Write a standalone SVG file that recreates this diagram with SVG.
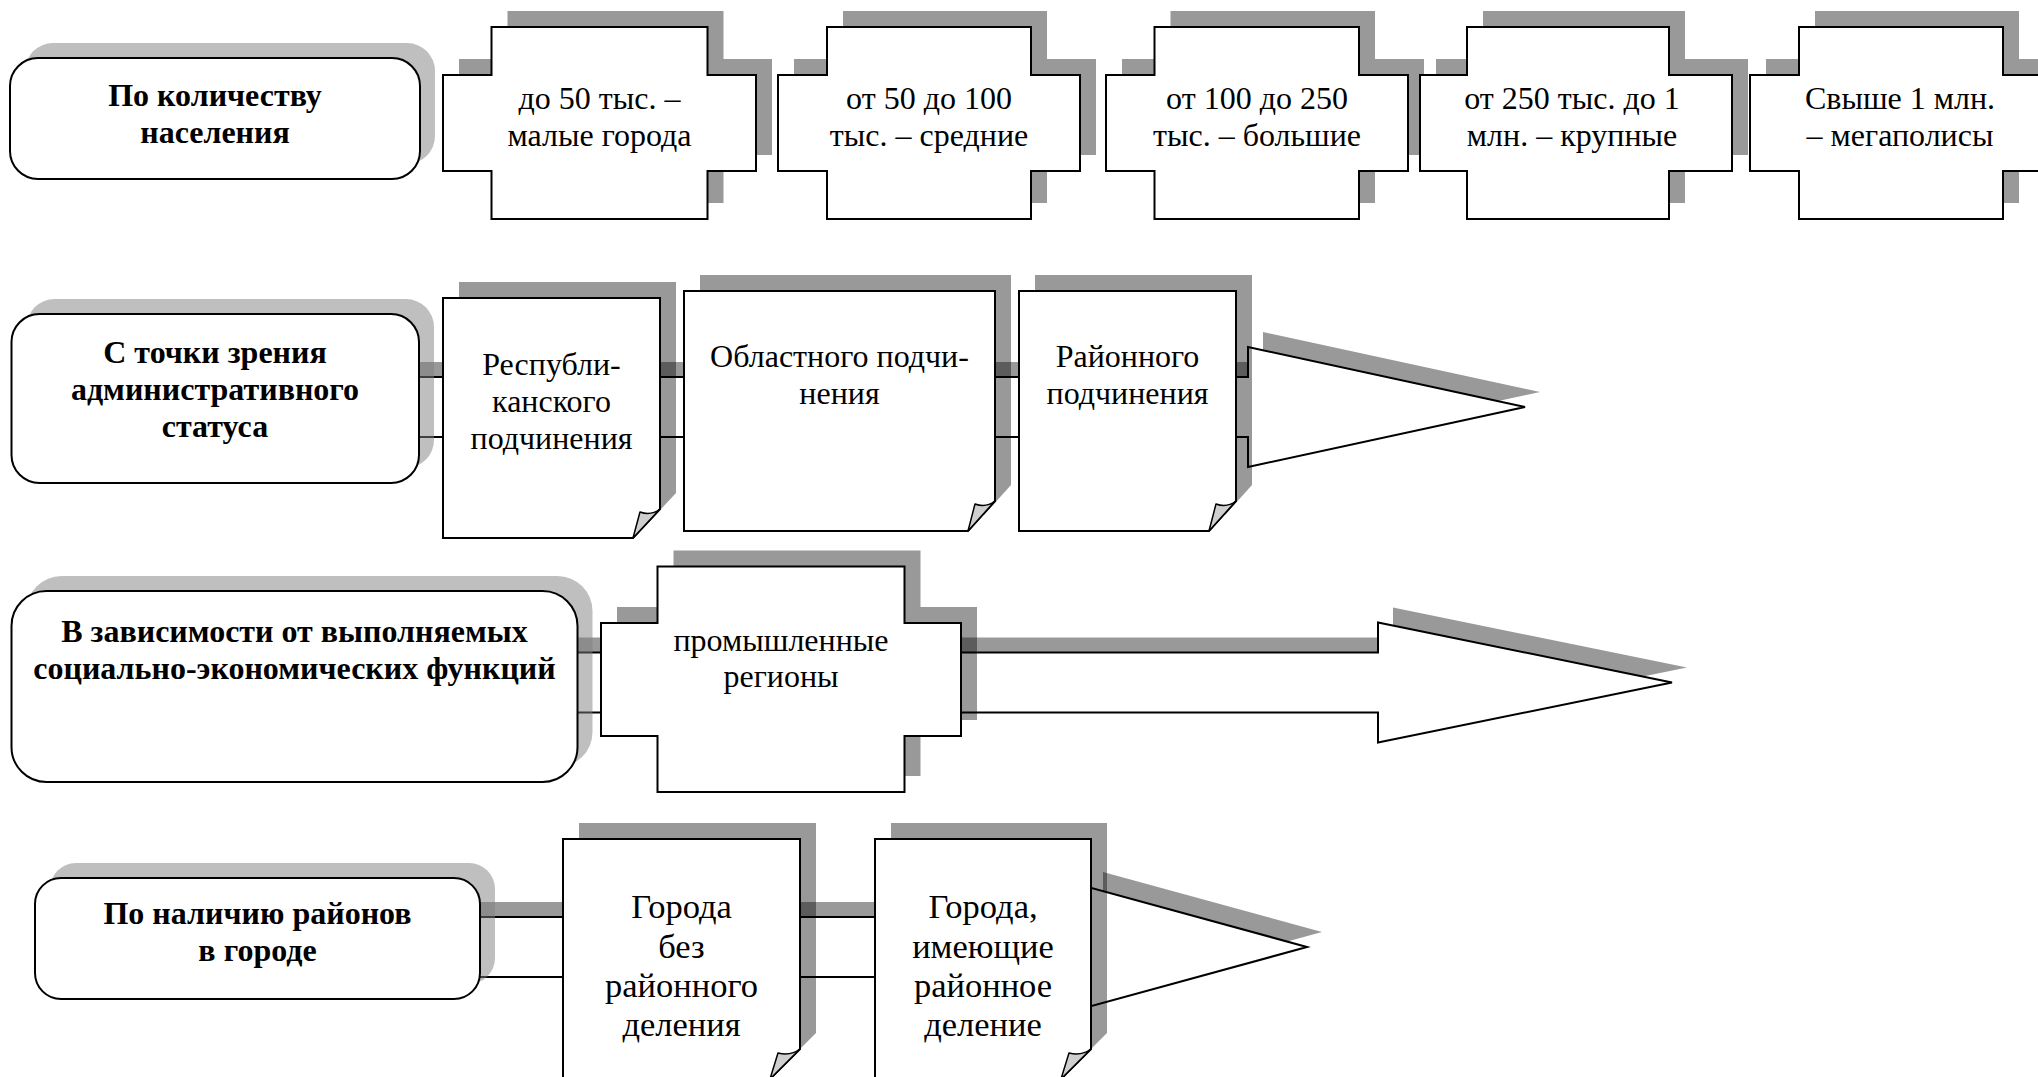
<svg xmlns="http://www.w3.org/2000/svg" width="2038" height="1077" viewBox="0 0 2038 1077">
<style>
.sh{fill:#000;fill-opacity:.4}
.bsh{fill:#808080;fill-opacity:.5}
.body{fill:#fff;stroke:#000;stroke-width:2;stroke-linejoin:miter}
.fold{fill:#cfcfcf;stroke:#000;stroke-width:1.5;stroke-linejoin:round}
.t{font-family:"Liberation Serif","Times New Roman",serif;font-size:32px;text-anchor:middle;fill:#000}
.b{font-weight:bold}
.big{font-size:34.5px}
</style>
<rect width="2038" height="1077" fill="#fff"/>

<g id="connectors">
  <g id="arrow-row2">
    <path class="sh" transform="translate(15,-15)" d="M200,377 H1248 V347 L1525,407 L1248,467 V437 H200 Z"/>
    <path class="body" d="M200,377 H1248 V347 L1525,407 L1248,467 V437 H200 Z"/>
  </g>
  <g id="arrow-row3">
    <path class="sh" transform="translate(15,-15)" d="M300,652.5 H1378 V622.5 L1672,682.5 L1378,742.5 V712.5 H300 Z"/>
    <path class="body" d="M300,652.5 H1378 V622.5 L1672,682.5 L1378,742.5 V712.5 H300 Z"/>
  </g>
  <g id="arrow-row4">
    <path class="sh" transform="translate(15,-15)" d="M300,917 H1088 V887 L1307,947 L1088,1007 V977 H300 Z"/>
    <path class="body" d="M300,917 H1088 V887 L1307,947 L1088,1007 V977 H300 Z"/>
  </g>
</g>

<!-- Row 1 -->
<g id="box-population">
  <rect class="bsh" x="25" y="43" width="410" height="121" rx="28"/>
  <rect class="body" x="10" y="58" width="410" height="121" rx="28"/>
  <text class="t b" x="215" y="106">По количеству</text>
  <text class="t b" x="215" y="143">населения</text>
</g>
<g id="cross-small">
  <path class="sh" transform="translate(16,-16)" d="M491.5,27 H707.5 V75 H756 V171 H707.5 V219 H491.5 V171 H443 V75 H491.5 Z"/>
  <path class="body" d="M491.5,27 H707.5 V75 H756 V171 H707.5 V219 H491.5 V171 H443 V75 H491.5 Z"/>
  <text class="t" x="599.5" y="109">до 50 тыс. –</text>
  <text class="t" x="599.5" y="146">малые города</text>
</g>
<g id="cross-medium">
  <path class="sh" transform="translate(16,-16)" d="M827,27 H1031 V75 H1080 V171 H1031 V219 H827 V171 H778 V75 H827 Z"/>
  <path class="body" d="M827,27 H1031 V75 H1080 V171 H1031 V219 H827 V171 H778 V75 H827 Z"/>
  <text class="t" x="929" y="109">от 50 до 100</text>
  <text class="t" x="929" y="146">тыс. – средние</text>
</g>
<g id="cross-big">
  <path class="sh" transform="translate(16,-16)" d="M1154.5,27 H1359 V75 H1408 V171 H1359 V219 H1154.5 V171 H1106 V75 H1154.5 Z"/>
  <path class="body" d="M1154.5,27 H1359 V75 H1408 V171 H1359 V219 H1154.5 V171 H1106 V75 H1154.5 Z"/>
  <text class="t" x="1257" y="109">от 100 до 250</text>
  <text class="t" x="1257" y="146">тыс. – большие</text>
</g>
<g id="cross-large">
  <path class="sh" transform="translate(16,-16)" d="M1467,27 H1669 V75 H1732 V171 H1669 V219 H1467 V171 H1420 V75 H1467 Z"/>
  <path class="body" d="M1467,27 H1669 V75 H1732 V171 H1669 V219 H1467 V171 H1420 V75 H1467 Z"/>
  <text class="t" x="1572" y="109">от 250 тыс. до 1</text>
  <text class="t" x="1572" y="146">млн. – крупные</text>
</g>
<g id="cross-megalopolis">
  <path class="sh" transform="translate(16,-16)" d="M1799,27 H2003 V75 H2052 V171 H2003 V219 H1799 V171 H1750 V75 H1799 Z"/>
  <path class="body" d="M1799,27 H2003 V75 H2052 V171 H2003 V219 H1799 V171 H1750 V75 H1799 Z"/>
  <text class="t" x="1900" y="109">Свыше 1 млн.</text>
  <text class="t" x="1900" y="146">– мегаполисы</text>
</g>

<!-- Row 2 -->
<g id="box-admin">
  <rect class="bsh" x="26.5" y="299" width="407.5" height="169" rx="28"/>
  <rect class="body" x="11.5" y="314" width="407.5" height="169" rx="28"/>
  <text class="t b" x="215" y="362.5">С точки зрения</text>
  <text class="t b" x="215" y="399.5">административного</text>
  <text class="t b" x="215" y="436.5">статуса</text>
</g>
<g id="doc-republic">
  <path class="sh" transform="translate(16,-16)" d="M443,298 H660 V509 L633,538 H443 Z"/>
  <path class="body" d="M443,298 H660 V509 L633,538 H443 Z"/>
  <path class="fold" d="M660,509 Q651,516 640,512 L633,538 Z"/>
  <text class="t" x="551.5" y="375">Республи-</text>
  <text class="t" x="551.5" y="412">канского</text>
  <text class="t" x="551.5" y="449">подчинения</text>
</g>
<g id="doc-region">
  <path class="sh" transform="translate(16,-16)" d="M684,291 H995 V501 L968,531 H684 Z"/>
  <path class="body" d="M684,291 H995 V501 L968,531 H684 Z"/>
  <path class="fold" d="M995,501 Q986,508 975,504 L968,531 Z"/>
  <text class="t" x="839.5" y="367">Областного подчи-</text>
  <text class="t" x="839.5" y="404">нения</text>
</g>
<g id="doc-district">
  <path class="sh" transform="translate(16,-16)" d="M1019,291 H1236 V501 L1209,531 H1019 Z"/>
  <path class="body" d="M1019,291 H1236 V501 L1209,531 H1019 Z"/>
  <path class="fold" d="M1236,501 Q1227,508 1216,504 L1209,531 Z"/>
  <text class="t" x="1127.5" y="367">Районного</text>
  <text class="t" x="1127.5" y="404">подчинения</text>
</g>

<!-- Row 3 -->
<g id="box-functions">
  <rect class="bsh" x="26.5" y="576" width="566" height="191" rx="35"/>
  <rect class="body" x="11.5" y="591" width="566" height="191" rx="35"/>
  <text class="t b" x="294.5" y="641.5">В зависимости от выполняемых</text>
  <text class="t b" x="294.5" y="678.5">социально-экономических функций</text>
</g>
<g id="cross-industrial">
  <path class="sh" transform="translate(16,-16)" d="M657.5,566.5 H904.5 V623 H961 V736 H904.5 V792 H657.5 V736 H601 V623 H657.5 Z"/>
  <path class="body" d="M657.5,566.5 H904.5 V623 H961 V736 H904.5 V792 H657.5 V736 H601 V623 H657.5 Z"/>
  <text class="t" x="781" y="651">промышленные</text>
  <text class="t" x="781" y="687">регионы</text>
</g>

<!-- Row 4 -->
<g id="box-districts">
  <rect class="bsh" x="50" y="863" width="445" height="121" rx="26"/>
  <rect class="body" x="35" y="878" width="445" height="121" rx="26"/>
  <text class="t b" x="257.5" y="924">По наличию районов</text>
  <text class="t b" x="257.5" y="961">в городе</text>
</g>
<g id="doc-without">
  <path class="sh" transform="translate(16,-16)" d="M563,839 H800 V1049 L770,1079 H563 Z"/>
  <path class="body" d="M563,839 H800 V1049 L770,1079 H563 Z"/>
  <path class="fold" d="M800,1049 Q791,1056 778,1053 L770,1079 Z"/>
  <text class="t big" x="681.5" y="918">Города</text>
  <text class="t big" x="681.5" y="957.5">без</text>
  <text class="t big" x="681.5" y="997">районного</text>
  <text class="t big" x="681.5" y="1036">деления</text>
</g>
<g id="doc-with">
  <path class="sh" transform="translate(16,-16)" d="M875,839 H1091 V1049 L1061,1079 H875 Z"/>
  <path class="body" d="M875,839 H1091 V1049 L1061,1079 H875 Z"/>
  <path class="fold" d="M1091,1049 Q1082,1056 1069,1053 L1061,1079 Z"/>
  <text class="t big" x="983" y="918">Города,</text>
  <text class="t big" x="983" y="957.5">имеющие</text>
  <text class="t big" x="983" y="997">районное</text>
  <text class="t big" x="983" y="1036">деление</text>
</g>
</svg>
